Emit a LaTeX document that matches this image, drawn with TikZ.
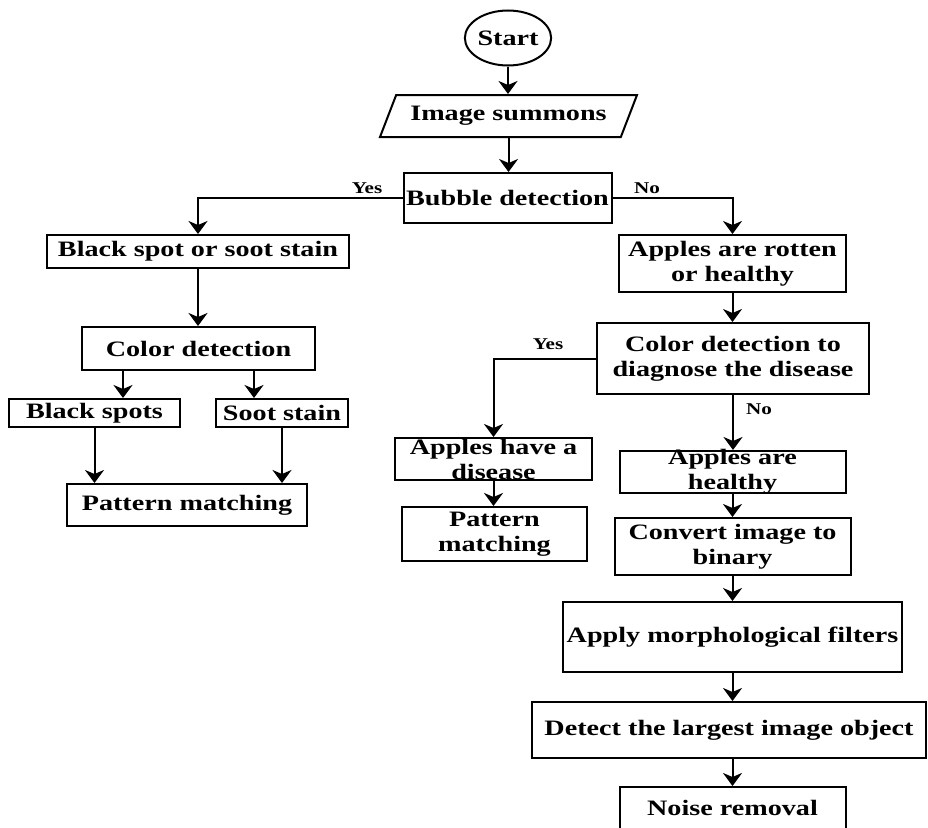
\documentclass[tikz,border=0pt]{standalone}
\usepackage{fontspec}
\setmainfont{Liberation Serif}[FakeStretch=1.28]
\usetikzlibrary{arrows.meta,shapes.geometric}
\begin{document}
\begin{tikzpicture}[x=1pt,y=-1pt,
  box/.style={draw, rectangle, line width=2pt, inner xsep=0pt, inner ysep=-4pt, align=center,
    font=\bfseries\fontsize{22}{25}\selectfont},
  lbl/.style={font=\bfseries\fontsize{16.5}{19}\selectfont, inner sep=0pt},
  arr/.style={line width=2pt, -{Stealth[length=13pt,width=19pt,inset=4pt]}}]
\fill[white] (0,0) rectangle (928,827);
\useasboundingbox (0,0) rectangle (928,827);
% nodes
\node[draw, ellipse, line width=2pt, inner sep=0pt, minimum width=77, minimum height=55,
  font=\bfseries\fontsize{22}{25}\selectfont] (start) at (508,38) {Start};
\node[draw, trapezium, trapezium left angle=50, trapezium right angle=130, trapezium stretches body,
  line width=2pt, inner sep=0pt, minimum width=257, minimum height=42,
  font=\bfseries\fontsize{22}{25}\selectfont] (input) at (508.5,116) {Image summons};
\node[box, minimum width=208, minimum height=50] (bubble) at (507.5,198) {Bubble detection};
\node[box, minimum width=302, minimum height=33] (blackspot) at (198,251.5) {Black spot or soot stain};
\node[box, minimum width=233, minimum height=43] (colordet) at (198.5,348.5) {Color detection};
\node[box, minimum width=171, minimum height=28] (blackspots) at (94.5,413) {Black spots};
\node[box, minimum width=132, minimum height=28] (soot) at (282,413) {Soot stain};
\node[box, minimum width=240, minimum height=42] (pattern1) at (187,505) {Pattern matching};
\node[box, minimum width=227, minimum height=57] (rotten) at (732.5,263.5) {Apples are rotten\\or healthy};
\node[box, minimum width=272, minimum height=71] (colordiag) at (733,358.5) {Color detection to\\diagnose the disease};
\node[box, minimum width=197, minimum height=42] (disease) at (493.5,459) {Apples have a\\disease};
\node[box, minimum width=185, minimum height=54] (pattern2) at (494.5,534) {Pattern\\matching};
\node[box, minimum width=226, minimum height=42] (healthy) at (732.5,472) {Apples are\\healthy};
\node[box, minimum width=236, minimum height=57] (convert) at (732.5,546.5) {Convert image to\\binary};
\node[box, minimum width=339, minimum height=70] (morph) at (732.5,637) {Apply morphological filters};
\node[box, minimum width=394, minimum height=56] (detect) at (729,730) {Detect the largest image object};
\node[box, minimum width=226, minimum height=42] (noise) at (732.5,808) {Noise removal};
% labels
\node[lbl] (yes1) at (367,188) {Yes};
\node[lbl] (no1) at (647,188) {No};
\node[lbl] (yes2) at (548,344) {Yes};
\node[lbl] (no2) at (759,409) {No};
% connectors
\draw[arr] (start.south) -- (start.south |- input.north);
\draw[arr] (input.south) -- (input.south |- bubble.north);
\draw[arr] (bubble.west) -| (blackspot.north);
\draw[arr] (bubble.east) -| (rotten.north);
\draw[arr] (blackspot.south) -- (blackspot.south |- colordet.north);
\draw[arr] ([xshift=-75.5pt]colordet.south) -- ([xshift=28.5pt]blackspots.north);
\draw[arr] ([xshift=55.5pt]colordet.south) -- ([xshift=-28pt]soot.north);
\draw[arr] (blackspots.south) -- (blackspots.south |- pattern1.north);
\draw[arr] (soot.south) -- (soot.south |- pattern1.north);
\draw[arr] (rotten.south) -- (rotten.south |- colordiag.north);
\draw[arr] (colordiag.west) -| (disease.north);
\draw[arr] (disease.south) -- (disease.south |- pattern2.north);
\draw[arr] (colordiag.south) -- (colordiag.south |- healthy.north);
\draw[arr] (healthy.south) -- (healthy.south |- convert.north);
\draw[arr] (convert.south) -- (convert.south |- morph.north);
\draw[arr] (morph.south) -- (morph.south |- detect.north);
\draw[arr] (detect.south -| morph.south) -- (morph.south |- noise.north);
\end{tikzpicture}
\end{document}
